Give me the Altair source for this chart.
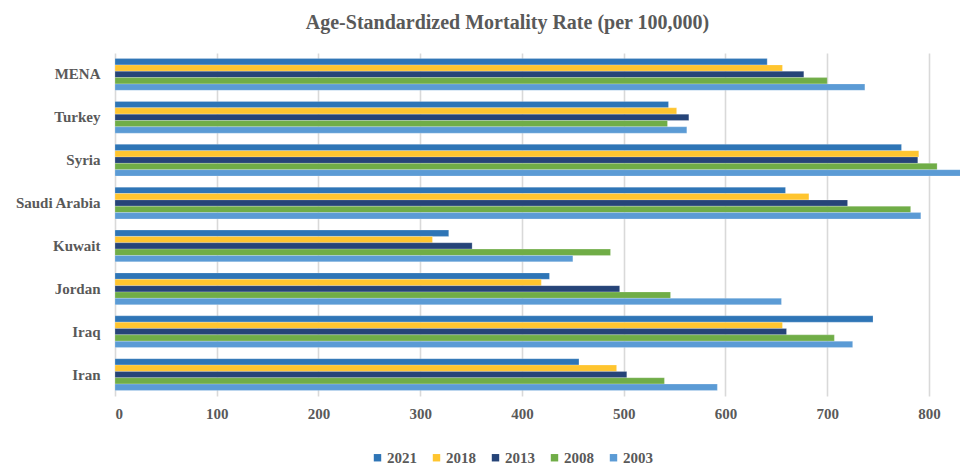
import altair as alt
import pandas as pd

countries = ["MENA", "Turkey", "Syria", "Saudi Arabia", "Kuwait", "Jordan", "Iraq", "Iran"]
years = ["2021", "2018", "2013", "2008", "2003"]
colors = ["#2E75B6", "#FFC52F", "#264478", "#70AD47", "#5B9BD5"]

v2021 = [641, 544, 773, 659, 328, 427, 745, 456]
v2018 = [656, 552, 790, 682, 312, 419, 656, 493]
v2013 = [677, 564, 789, 720, 351, 496, 660, 503]
v2008 = [700, 543, 808, 782, 487, 546, 707, 540]
v2003 = [737, 562, 850, 792, 450, 655, 725, 592]

series = {"2021": v2021, "2018": v2018, "2013": v2013, "2008": v2008, "2003": v2003}
rows = []
for y in years:
    for c, v in zip(countries, series[y]):
        rows.append({"Country": c, "Year": y, "Value": v})
df = pd.DataFrame(rows)

FONT = "Liberation Serif"
GRAY = "#595959"

chart = alt.Chart(df).mark_bar(clip=True, stroke="#ffffff", strokeOpacity=0.35, strokeWidth=0.6).encode(
    x=alt.X("Value:Q",
            scale=alt.Scale(domain=[0, 830.5], nice=False, zero=True),
            axis=alt.Axis(values=[0, 100, 200, 300, 400, 500, 600, 700, 800], title=None,
                          grid=True, gridColor="#d9d9d9", gridWidth=1.6,
                          domain=False, ticks=False, labelPadding=10,
                          labelFont=FONT, labelFontSize=15, labelFontWeight="bold",
                          labelColor=GRAY)),
    y=alt.Y("Country:N", sort=countries,
            scale=alt.Scale(paddingInner=0.26, paddingOuter=0.13),
            axis=alt.Axis(title=None, domain=False, ticks=False, labelPadding=15,
                          labelFont=FONT, labelFontSize=15, labelFontWeight="bold",
                          labelColor=GRAY)),
    yOffset=alt.YOffset("Year:N", sort=years, scale=alt.Scale(paddingInner=0)),
    color=alt.Color("Year:N", sort=years,
                    scale=alt.Scale(domain=years, range=colors),
                    legend=alt.Legend(title=None, orient="none", direction="horizontal",
                                      legendX=255, legendY=397, symbolType="square",
                                      symbolSize=55, symbolStrokeWidth=0,
                                      labelFont=FONT, labelFontSize=15, labelFontWeight="bold",
                                      labelColor=GRAY, columnPadding=12, labelOffset=2)),
).properties(
    width=845, height=343,
    autosize=alt.AutoSizeParams(type="none"),
    padding={"left": 107, "top": 45, "right": 0, "bottom": 70},
    title=alt.TitleParams("Age-Standardized Mortality Rate (per 100,000)",
                          font=FONT, fontSize=20, fontWeight="bold", color=GRAY,
                          anchor="middle", dx=-30, offset=20),
).configure_view(stroke=None)

chart.save("out.html", embed_options={"renderer": "svg", "actions": False})
